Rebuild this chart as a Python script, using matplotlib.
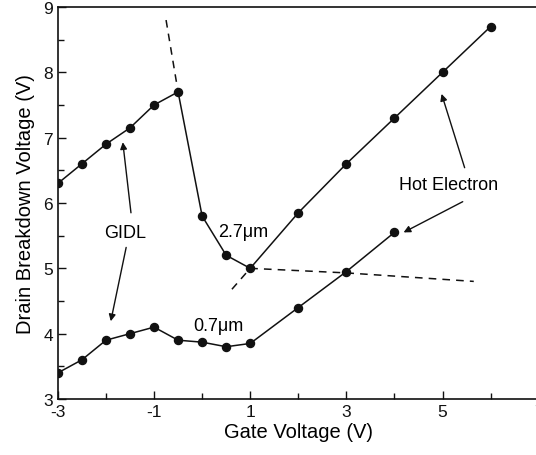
import matplotlib
matplotlib.use("Agg")
import matplotlib.pyplot as plt
from matplotlib.ticker import MultipleLocator

plt.rcParams['font.family'] = ['Liberation Sans', 'DejaVu Sans']

# 2.7 um device
gate_27 = [-3, -2.5, -2, -1.5, -1, -0.5, 0, 0.5, 1, 2, 3, 4, 5, 6]
bv_27 = [6.3, 6.6, 6.9, 7.15, 7.5, 7.7, 5.8, 5.2, 5.0, 5.85, 6.6, 7.3, 8.0, 8.7]
# 0.7 um device
gate_07 = [-3, -2.5, -2, -1.5, -1, -0.5, 0, 0.5, 1, 2, 3, 4]
bv_07 = [3.4, 3.6, 3.9, 4.0, 4.1, 3.9, 3.87, 3.8, 3.85, 4.4, 4.95, 5.55]
# dashed extrapolations
gidl_ext_x = [-0.75, -0.5]
gidl_ext_y = [8.8, 7.7]
he_ext_x = [0.62, 1.0]
he_ext_y = [4.68, 5.0]
flat_ext_x = [1.0, 3.0, 5.65]
flat_ext_y = [5.0, 4.93, 4.8]

fig = plt.figure(figsize=(5.36, 4.56), dpi=100)
ax = fig.add_axes([0.108, 0.1228, 0.897, 0.8597])

ink = '#111111'
ax.plot(gate_27, bv_27, '-o', color=ink, lw=1.1, ms=5.8)
ax.plot(gate_07, bv_07, '-o', color=ink, lw=1.1, ms=5.8)
ax.plot(gidl_ext_x, gidl_ext_y, '--', color=ink, lw=1.1, dashes=(5, 4))
ax.plot(he_ext_x, he_ext_y, '--', color=ink, lw=1.1, dashes=(5, 4))
ax.plot(flat_ext_x, flat_ext_y, '--', color=ink, lw=1.1, dashes=(5, 4))

ax.set_xlim(-3, 7)
ax.set_ylim(3, 9)
ax.xaxis.set_major_locator(MultipleLocator(2))
ax.xaxis.set_minor_locator(MultipleLocator(1))
ax.set_xticks([-3, -1, 1, 3, 5, 7])
ax.yaxis.set_major_locator(MultipleLocator(1))
ax.yaxis.set_minor_locator(MultipleLocator(0.5))
ax.tick_params(which='both', direction='in', colors=ink, labelsize=12.5)
ax.tick_params(which='major', length=6, width=1)
ax.tick_params(which='minor', length=4, width=1)
ax.set_xticklabels(['-3', '-1', '1', '3', '5', '7'])
for s in ax.spines.values():
    s.set_linewidth(1.2)
    s.set_color(ink)

ax.set_xlabel('Gate Voltage (V)', fontsize=14.5, labelpad=2)
ax.set_ylabel('Drain Breakdown Voltage (V)', fontsize=14.5, labelpad=6)

fs = 13
ax.text(-1.6, 5.55, 'GIDL', fontsize=fs, ha='center', va='center')
ax.text(5.13, 6.28, 'Hot Electron', fontsize=fs, ha='center', va='center')
ax.text(0.85, 5.57, '2.7μm', fontsize=fs, ha='center', va='center')
ax.text(0.33, 4.12, '0.7μm', fontsize=fs, ha='center', va='center')

ap = dict(arrowstyle='-|>', color=ink, lw=1.0, mutation_scale=10, shrinkA=0, shrinkB=0)
ax.annotate('', xy=(-1.65, 6.93), xytext=(-1.48, 5.85), arrowprops=ap)
ax.annotate('', xy=(-1.9, 4.19), xytext=(-1.58, 5.32), arrowprops=ap)
ax.annotate('', xy=(4.98, 7.67), xytext=(5.46, 6.54), arrowprops=ap)
ax.annotate('', xy=(4.19, 5.55), xytext=(5.42, 6.02), arrowprops=ap)

fig.savefig('out.png', dpi=100)
